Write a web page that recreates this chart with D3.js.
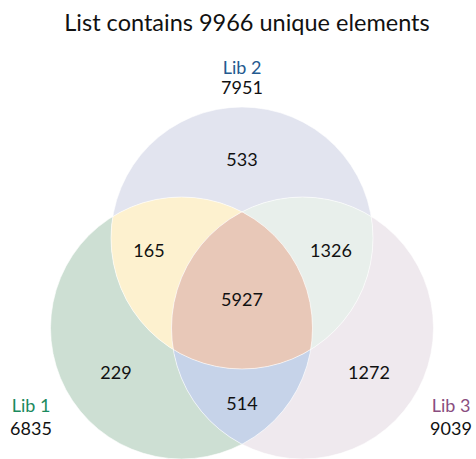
<!DOCTYPE html>
<html><head><meta charset="utf-8">
<script src="https://cdn.jsdelivr.net/npm/d3@7"></script>
<style>body{margin:0;background:#fff}svg{display:block}text{font-family:Lato,"Open Sans",sans-serif;font-weight:400}</style>
</head><body><div id="chart"></div>
<script>
const title = "List contains 9966 unique elements";
const setNames = ["Lib 1", "Lib 2", "Lib 3"];
const setSizes = [6835, 7951, 9039];
const setColors = ["#1b8a5e", "#245a8f", "#8a4d80"];
// regions: membership in [Lib1, Lib2, Lib3]
const regionKeys = ["100", "010", "001", "110", "011", "101", "111"];
const regionValues = [229, 533, 1272, 165, 1326, 514, 5927];
const regionColors = ["#cddfd3", "#e2e4ef", "#efe9ee", "#fdf1cf", "#e8efeb", "#c6d3e9", "#e8c8b8"];

const W = 476, H = 459;
const svg = d3.select("#chart").append("svg").attr("width", W).attr("height", H);

// layout of the three circles
const r = 131;
const cx = 242;
const centers = [
  {x: cx - 60.5, y: 328},
  {x: cx, y: 238},
  {x: cx + 60.5, y: 328}
];
const defs = svg.append("defs");
centers.forEach((c, i) => {
  defs.append("clipPath").attr("id", "clip" + i)
    .append("circle").attr("cx", c.x).attr("cy", c.y).attr("r", r);
});
regionKeys.forEach((k, ri) => {
  const m = defs.append("mask").attr("id", "mask" + ri);
  m.append("rect").attr("width", W).attr("height", H).attr("fill", "#fff");
  k.split("").forEach((b, i) => {
    if (b === "0") m.append("circle").attr("cx", centers[i].x).attr("cy", centers[i].y).attr("r", r).attr("fill", "#000");
  });
});
const regs = svg.append("g");
regionKeys.forEach((k, ri) => {
  let g = regs.append("g").attr("mask", `url(#mask${ri})`);
  k.split("").forEach((b, i) => {
    if (b === "1") g = g.append("g").attr("clip-path", `url(#clip${i})`);
  });
  g.append("rect").attr("width", W).attr("height", H).attr("fill", regionColors[ri]);
});
svg.append("g").selectAll("circle").data(centers).join("circle")
  .attr("cx", d => d.x).attr("cy", d => d.y).attr("r", r)
  .attr("fill", "none").attr("stroke", "#fff").attr("stroke-opacity", 0.6).attr("stroke-width", 1);

// region label positions relative to layout
const labelPos = {
  "100": [cx - 126, 372], "010": [cx, 159], "001": [cx + 127, 372],
  "110": [cx - 93, 250], "011": [cx + 89, 250], "101": [cx, 403], "111": [cx, 299]
};
svg.append("g").selectAll("text").data(regionKeys).join("text")
  .attr("x", k => labelPos[k][0]).attr("y", k => labelPos[k][1])
  .attr("text-anchor", "middle").attr("dominant-baseline", "central")
  .attr("font-size", 18).attr("fill", "#111")
  .text((k, i) => regionValues[i]);

// set labels
const setPos = [[31, 412, 23], [242, 74, 20], [451, 412, 23]];
setNames.forEach((n, i) => {
  const [x, y, dy] = setPos[i];
  svg.append("text").attr("x", x).attr("y", y).attr("text-anchor", "middle")
    .attr("font-size", 18).attr("fill", setColors[i]).text(n);
  svg.append("text").attr("x", x).attr("y", y + dy).attr("text-anchor", "middle")
    .attr("font-size", 18).attr("fill", "#111").text(setSizes[i]);
});

svg.append("text").attr("x", 247).attr("y", 31).attr("text-anchor", "middle")
  .attr("font-size", 23.5).attr("fill", "#111").text(title);
</script></body></html>
